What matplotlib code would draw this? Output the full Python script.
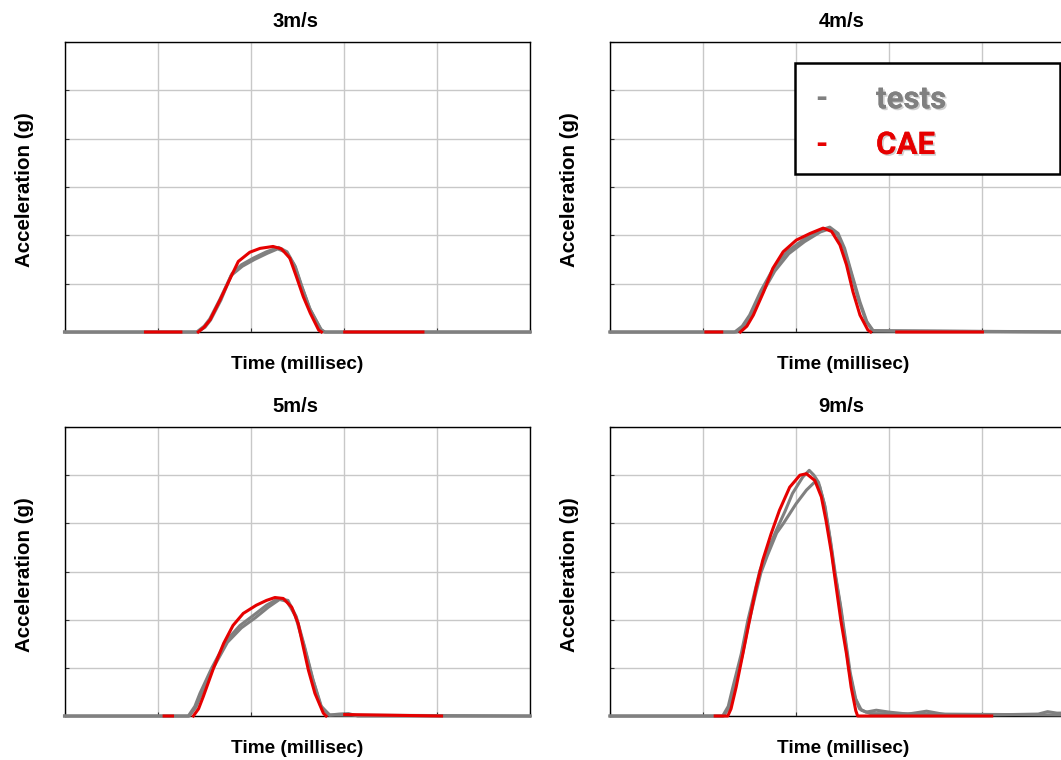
import numpy as np
import matplotlib
matplotlib.use("Agg")
import matplotlib.pyplot as plt
from matplotlib.patches import Rectangle
import matplotlib.patheffects as pe

nan = np.nan

# ---------------- data (grid units: x 0..5, y 0..6) ----------------
titles = ["3m/s", "4m/s", "5m/s", "9m/s"]
xlabel = "Time (millisec)"
ylabel = "Acceleration (g)"
legend_labels = ["tests", "CAE"]

# 3 m/s
t3_test_a = [0, 1.42, 1.50, 1.56, 1.67, 1.80, 1.90, 2.03, 2.17, 2.30, 2.39, 2.48, 2.55, 2.64, 2.76, 2.80, 5.0]
a3_test_a = [0, 0, 0.12, 0.27, 0.68, 1.21, 1.39, 1.53, 1.66, 1.75, 1.66, 1.35, 0.94, 0.46, 0.04, 0, 0]
t3_test_b = [0, 1.43, 1.51, 1.57, 1.68, 1.79, 1.91, 2.04, 2.18, 2.29, 2.38, 2.47, 2.54, 2.63, 2.75, 2.79, 5.0]
a3_test_b = [0, 0, 0.10, 0.25, 0.66, 1.17, 1.36, 1.50, 1.63, 1.72, 1.65, 1.38, 0.98, 0.50, 0.06, 0, 0]
t3_cae = [0.87, 1.25, nan, 1.437, 1.50, 1.563, 1.67, 1.78, 1.867, 1.99, 2.10, 2.24, 2.33, 2.42, 2.49, 2.565, 2.64, 2.73, 2.76, nan, 3.01, 3.85]
a3_cae = [0, 0, nan, 0, 0.10, 0.25, 0.66, 1.11, 1.46, 1.65, 1.73, 1.77, 1.72, 1.53, 1.15, 0.73, 0.39, 0.04, 0, nan, 0, 0]

# 4 m/s
t4_test_a = [0, 1.34, 1.42, 1.50, 1.62, 1.75, 1.90, 2.07, 2.25, 2.36, 2.45, 2.52, 2.59, 2.685, 2.76, 2.83, 5.0]
a4_test_a = [0, 0, 0.12, 0.35, 0.85, 1.30, 1.66, 1.90, 2.10, 2.17, 2.04, 1.73, 1.25, 0.62, 0.21, 0.02, 0]
t4_test_b = [0, 1.36, 1.44, 1.52, 1.64, 1.77, 1.92, 2.09, 2.26, 2.35, 2.44, 2.51, 2.58, 2.67, 2.75, 2.82, 5.0]
a4_test_b = [0, 0, 0.10, 0.33, 0.82, 1.26, 1.62, 1.87, 2.07, 2.13, 2.02, 1.74, 1.28, 0.66, 0.23, 0.03, 0]
t4_cae = [1.03, 1.20, nan, 1.40, 1.47, 1.54, 1.65, 1.75, 1.86, 2.00, 2.15, 2.29, 2.38, 2.47, 2.54, 2.61, 2.685, 2.77, 2.80, nan, 3.08, 4.0]
a4_cae = [0, 0, nan, 0, 0.12, 0.35, 0.83, 1.32, 1.66, 1.90, 2.04, 2.15, 2.08, 1.80, 1.39, 0.83, 0.35, 0.04, 0, nan, 0, 0]

# 5 m/s
t5_test_a = [0, 1.33, 1.40, 1.455, 1.58, 1.74, 1.885, 2.03, 2.17, 2.30, 2.40, 2.49, 2.58, 2.67, 2.76, 2.85, 2.95, 3.05, 3.15, 5.0]
a5_test_a = [0, 0, 0.20, 0.47, 0.99, 1.57, 1.88, 2.09, 2.30, 2.44, 2.40, 2.06, 1.43, 0.75, 0.19, 0.02, 0.04, 0.05, 0, 0]
t5_test_b = [0, 1.34, 1.41, 1.47, 1.59, 1.75, 1.90, 2.05, 2.19, 2.31, 2.39, 2.48, 2.57, 2.66, 2.75, 2.84, 5.0]
a5_test_b = [0, 0, 0.18, 0.45, 0.97, 1.53, 1.83, 2.04, 2.26, 2.42, 2.38, 2.08, 1.47, 0.80, 0.22, 0.02, 0]
t5_cae = [1.07, 1.16, nan, 1.384, 1.44, 1.49, 1.60, 1.71, 1.81, 1.92, 2.06, 2.17, 2.26, 2.35, 2.44, 2.51, 2.565, 2.62, 2.69, 2.78, 2.81, nan, 3.01, 4.05]
a5_cae = [0, 0, nan, 0, 0.15, 0.40, 0.99, 1.51, 1.88, 2.13, 2.30, 2.40, 2.46, 2.44, 2.26, 1.92, 1.43, 0.95, 0.47, 0.06, 0, nan, 0.03, 0]

# 9 m/s
t9_test_a = [0, 1.21, 1.27, 1.32, 1.41, 1.48, 1.55, 1.61, 1.68, 1.785, 1.88, 1.96, 2.07, 2.14, 2.19, 2.24, 2.30, 2.36, 2.41, 2.47, 2.52, 2.57, 2.63, 2.68, 2.75, 2.86, 3.0, 3.2, 3.4, 3.6, 4.0, 4.6, 4.7, 4.8, 5.0]
a9_test_a = [0, 0, 0.20, 0.60, 1.29, 1.98, 2.54, 3.02, 3.37, 3.85, 4.25, 4.62, 4.96, 5.10, 5.00, 4.85, 4.41, 3.71, 3.02, 2.33, 1.64, 0.94, 0.39, 0.15, 0.08, 0.12, 0.08, 0.04, 0.10, 0.03, 0.02, 0.04, 0.09, 0.06, 0.06]
t9_test_b = [0, 1.22, 1.28, 1.33, 1.42, 1.49, 1.56, 1.62, 1.69, 1.79, 1.86, 2.00, 2.11, 2.20, 2.25, 2.31, 2.37, 2.42, 2.48, 2.53, 2.58, 2.64, 2.70, 2.80, 5.0]
a9_test_b = [0, 0, 0.18, 0.55, 1.25, 1.93, 2.50, 2.97, 3.33, 3.80, 3.99, 4.41, 4.69, 4.86, 4.78, 4.35, 3.62, 2.95, 2.25, 1.58, 0.90, 0.35, 0.12, 0.05, 0.02]
t9_cae = [1.13, 1.265, 1.30, 1.355, 1.427, 1.498, 1.57, 1.64, 1.73, 1.82, 1.93, 2.04, 2.11, 2.20, 2.27, 2.32, 2.38, 2.43, 2.48, 2.54, 2.59, 2.64, 2.66, 3.0, 3.5, 4.10]
a9_cae = [0, 0, 0.15, 0.60, 1.29, 1.98, 2.67, 3.23, 3.78, 4.27, 4.75, 5.00, 5.03, 4.89, 4.55, 4.06, 3.37, 2.67, 1.98, 1.29, 0.60, 0.11, 0, 0, 0, 0]

panels = [
    (t3_test_a, a3_test_a, t3_test_b, a3_test_b, t3_cae, a3_cae),
    (t4_test_a, a4_test_a, t4_test_b, a4_test_b, t4_cae, a4_cae),
    (t5_test_a, a5_test_a, t5_test_b, a5_test_b, t5_cae, a5_cae),
    (t9_test_a, a9_test_a, t9_test_b, a9_test_b, t9_cae, a9_cae),
]

# ---------------- layout ----------------
W, H = 1061, 760
fig = plt.figure(figsize=(W / 100, H / 100), dpi=100)

def px_rect(x0, y0, x1, y1):
    return [x0 / W, (H - y1) / H, (x1 - x0) / W, (y1 - y0) / H]

rects = [
    px_rect(64.5, 42, 530, 332),
    px_rect(610, 42, 1075.5, 332),
    px_rect(64.5, 427, 530, 716),
    px_rect(610, 427, 1075.5, 716),
]

GRAY = "#808080"
RED = "#e60000"
FAM = "Liberation Sans"

for rect, title, data in zip(rects, titles, panels):
    ax = fig.add_axes(rect)
    ta, aa, tb, ab, tc, ac = data
    ax.plot(tb, ab, color=GRAY, lw=2.2, clip_on=False, zorder=3,
            solid_joinstyle="round")
    ax.plot(ta, aa, color=GRAY, lw=2.2, clip_on=False, zorder=3,
            solid_joinstyle="round")
    ax.plot(tc, ac, color=RED, lw=2.2, clip_on=False, zorder=4,
            solid_joinstyle="round")
    ax.set_xlim(0, 5)
    ax.set_ylim(0, 6)
    ax.set_xticks(np.arange(0, 6, 1))
    ax.set_yticks(np.arange(0, 7, 1))
    ax.grid(True, color="#c8c8c8", lw=1)
    ax.set_axisbelow(True)
    ax.tick_params(direction="in", length=3, width=0.8, labelleft=False,
                   labelbottom=False, color="#333333")
    for s in ax.spines.values():
        s.set_color("black")
        s.set_linewidth(1.0)
    ax.text(0.497, 1.053, title, transform=ax.transAxes, ha="center",
            va="baseline", family=FAM, weight="bold", size=14.5)
    ax.text(0.5, -0.128, xlabel, transform=ax.transAxes, ha="center",
            va="baseline", family=FAM, weight="bold", size=13.7)
    ax.text(-0.087, 0.49, ylabel, transform=ax.transAxes, ha="center",
            va="center", rotation=90, family=FAM, weight="bold", size=14.8)

# ---------------- legend box ----------------
bx0, by0, bx1, by1 = 795, 63, 1060, 174
fig.patches.append(Rectangle((bx0 / W, (H - by1) / H), (bx1 - bx0) / W,
                             (by1 - by0) / H, transform=fig.transFigure,
                             facecolor="white", edgecolor="black", lw=1.8,
                             zorder=10))
shadow = [pe.withSimplePatchShadow(offset=(1.2, -1.2), shadow_rgbFace="#b0b0b0", alpha=0.6), pe.Normal()]
leg_font = dict(family="Roboto", weight="bold", size=22.5)
for label, color, ybase in [(legend_labels[0], GRAY, 108.3), (legend_labels[1], RED, 154)]:
    fig.text(821 / W, (H - ybase) / H, "-", color=color, ha="center",
             va="baseline", zorder=11, **leg_font)
    fig.text(876 / W, (H - ybase) / H, label, color=color, ha="left",
             va="baseline", zorder=11, path_effects=shadow, **leg_font)

fig.savefig("out.png", dpi=100)
